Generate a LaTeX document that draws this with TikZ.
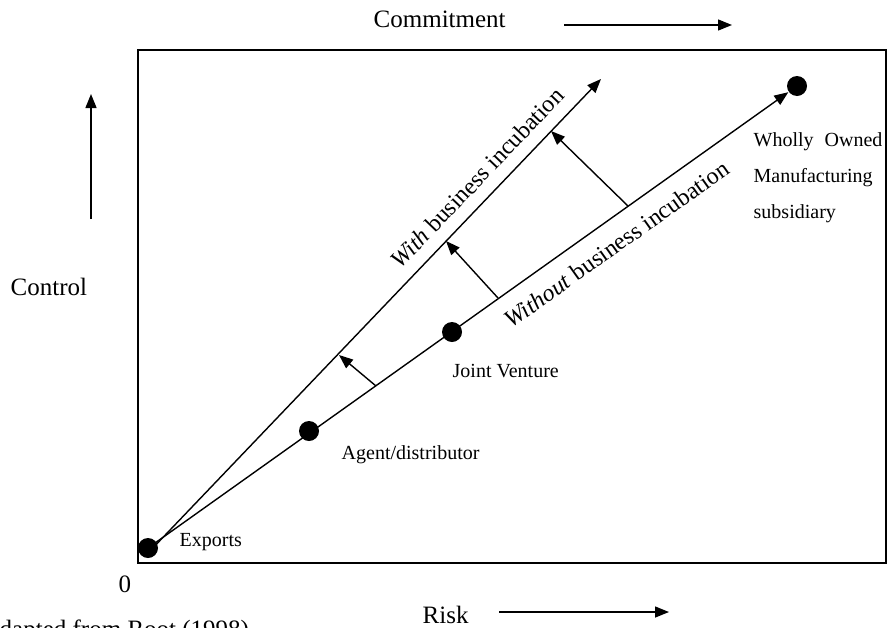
\documentclass[tikz,border=0pt]{standalone}
\usepackage{fontspec}
\setmainfont{Liberation Serif}
\usetikzlibrary{arrows.meta}
\begin{document}
\begin{tikzpicture}[x=1pt,y=-1pt,
  line width=1.4pt,
  tip/.style={-{Triangle[length=14pt,width=11pt]}},
  stage/.style={circle,fill=black,inner sep=0pt,minimum size=20pt},
  small/.style={font=\fontsize{20}{24}\selectfont,inner sep=0pt,anchor=base west},
  big/.style={font=\fontsize{25}{30}\selectfont,inner sep=0pt,anchor=base west},
  slopedlbl/.style={font=\fontsize{24}{28}\selectfont,sloped}]
\useasboundingbox (0,0) rectangle (893,627);
\clip (0,0) rectangle (893,627);

% frame of the chart
\draw[line width=1.6pt] (138,50) rectangle (886,563);

% axis captions
\node[big] (commit) at (373,27) {Commitment};
\coordinate (ca) at (564,25);
\coordinate (cb) at (732,25);
\draw[tip] (ca) -- (cb);

\node[big] (ctrl) at (10,295) {Control};
\coordinate (va) at (91,219);
\coordinate (vb) at (91,94);
\draw[tip] (va) -- (vb);

\node[big] (zero) at (118,592) {0};
\node[big] (risk) at (422,623) {Risk};
\coordinate (ra) at (499,612);
\coordinate (rb) at (669,612);
\draw[tip] (ra) -- (rb);

\node[big] (src) at (-19,637) {Adapted from Root (1998)};

% entry modes
\node[stage] (ex) at (148,548) {};
\node[stage] (ag) at (309,431) {};
\node[stage] (jv) at (452,332) {};
\node[stage] (wo) at (797,86) {};

\node[small] (exl) at (179,546) {Exports};
\node[small] (agl) at (341,459) {Agent/distributor};
\node[small] (jvl) at (452,377) {Joint Venture};
\node[small] (wol1) at (753,146) {Wholly\hspace{6pt} Owned};
\node[small] (wol2) at (753,182) {Manufacturing};
\node[small] (wol3) at (753,218) {subsidiary};

% paths with and without incubation
\coordinate (us) at (149,552);
\coordinate (ue) at (601,79);
\draw[tip] (us) -- (ue)
  node[slopedlbl,above,inner sep=0pt,yshift=12pt,pos=0.76] (withl) {\textit{With} business incubation};
\draw[tip] (ex.center) -- (wo)
  node[slopedlbl,below,inner sep=0pt,yshift=-15pt,pos=0.71] (withoutl) {\textit{Without} business incubation};

% shifts from the lower path to the upper one
\coordinate (s1) at (376,386);
\coordinate (t1) at (339,355);
\coordinate (s2) at (498,298);
\coordinate (t2) at (446,241);
\coordinate (s3) at (628,206);
\coordinate (t3) at (551,131);
\draw[tip] (s1) -- (t1);
\draw[tip] (s2) -- (t2);
\draw[tip] (s3) -- (t3);
\end{tikzpicture}
\end{document}
